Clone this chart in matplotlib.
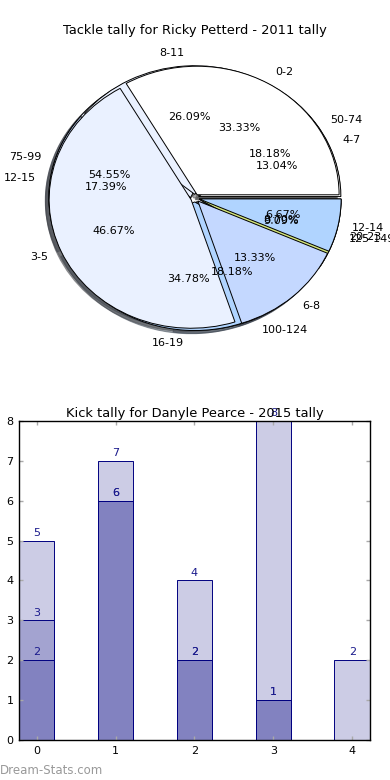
import matplotlib
matplotlib.use("Agg")
import matplotlib.pyplot as plt
import numpy as np

plt.rcParams['font.family'] = ['DejaVu Sans']

# ---- Pie data (three overlaid tallies) ----
pie_a_labels = ['4-7', '8-11', '12-15', '16-19', '20-23']
pie_a_values = [3, 6, 4, 8, 2]
pie_b_labels = ['0-2', '3-5', '6-8', '12-14']
pie_b_values = [5, 7, 2, 1]
pie_c_labels = ['50-74', '75-99', '100-124', '125-149']
pie_c_values = [2, 6, 2, 1]
pie_title = 'Tackle tally for Ricky Petterd - 2011 tally'

# ---- Bar data ----
bar_x = [0, 1, 2, 3, 4]
bar_series_1 = [5, 7, 4, 8, 2]
bar_series_2 = [3, 6, 2, 1, 0]
bar_series_3 = [2, 6, 2, 1, 0]
bar_title = 'Kick tally for Danyle Pearce - 2015 tally'

palette = ['#ffffff', '#eaf1ff', '#c4d8ff', '#b0d4ff', '#d4e67a']

fig = plt.figure(figsize=(3.9, 7.8), dpi=100)

# ---------------- Pie ----------------
ax1 = fig.add_axes([0.045, 0.540, 0.910, 0.412])
for vals, labs in [(pie_c_values, pie_c_labels),
                   (pie_a_values, pie_a_labels),
                   (pie_b_values, pie_b_labels)]:
    ax1.pie(vals, labels=labs, autopct='%.2f%%', explode=[0.03] * len(vals),
            colors=palette[:len(vals)], startangle=0, counterclock=True,
            shadow={'ox': -0.018, 'oy': -0.018, 'shade': 0.7},
            wedgeprops=dict(edgecolor='black', linewidth=0.7),
            textprops=dict(fontsize=8, zorder=10))
ax1.set_aspect('auto')
ax1.set_xlim(-1.25, 1.25)
ax1.set_ylim(-1.25, 1.25)
ax1.set_title(pie_title, fontsize=9.4, pad=2)

# ---------------- Bars ----------------
ax2 = fig.add_axes([0.0487, 0.0513, 0.9000, 0.4090])
navy = '#000080'
for series in [bar_series_1, bar_series_2, bar_series_3]:
    xs = [x for x, v in zip(bar_x, series) if v > 0]
    vs = [v for v in series if v > 0]
    ax2.bar(xs, vs, width=0.45, facecolor=(0, 0, 0.5, 0.2), edgecolor=navy,
            linewidth=0.7)
    for x, v in zip(xs, vs):
        ax2.annotate(str(v), (x, v), xytext=(0, 2), textcoords='offset points',
                     ha='center', va='bottom', fontsize=8, color='#1a1a8c')
ax2.set_xlim(-0.225, 4.225)
ax2.set_ylim(0, 8)
ax2.set_xticks(bar_x)
ax2.set_yticks(range(0, 9))
ax2.tick_params(direction='in', top=True, right=True, length=3, width=1,
                color='#aaaaaa', labelsize=8, pad=4)
for sp in ax2.spines.values():
    sp.set_linewidth(1.0)
ax2.set_title(bar_title, fontsize=9.4, pad=2.5)

fig.text(0.0, 0.004, 'Dream-Stats.com', fontsize=8.5, color='#999999',
         ha='left', va='bottom')

fig.savefig('out.png', dpi=100)
